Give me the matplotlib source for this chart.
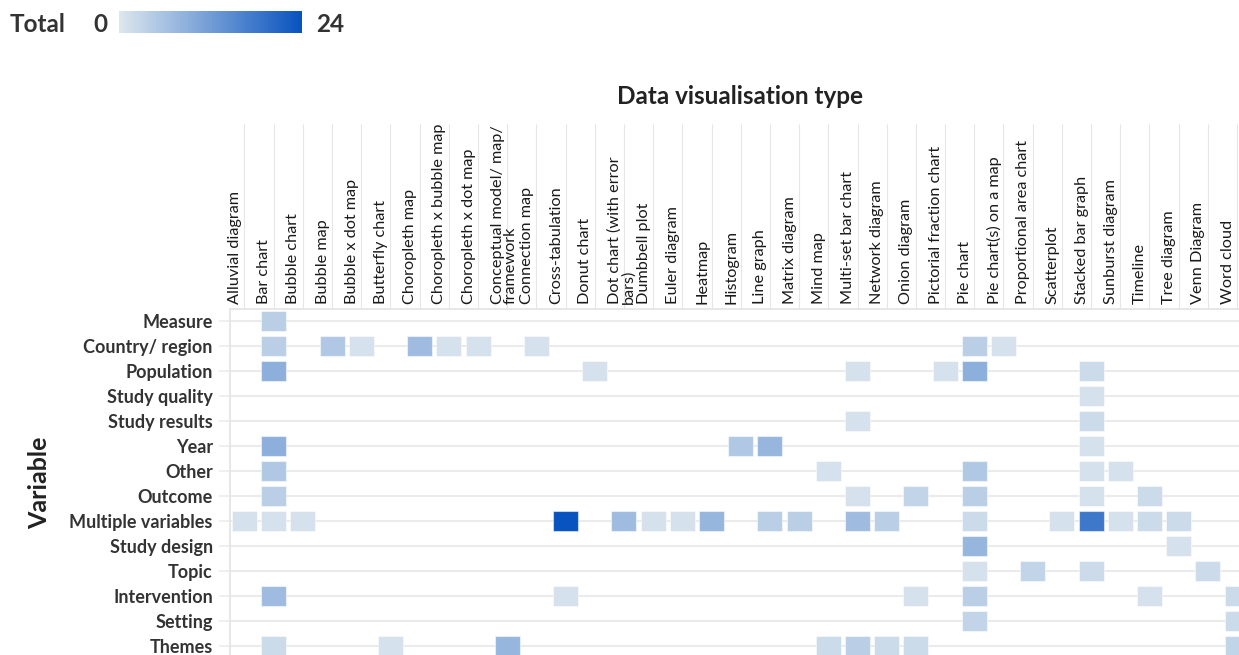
import matplotlib
matplotlib.use('Agg')
import matplotlib.pyplot as plt
import matplotlib.colors as mcolors
import matplotlib.transforms as mtransforms
from matplotlib.patches import Rectangle
import numpy as np

plt.rcParams['font.family'] = ['Lato', 'DejaVu Sans']

# column categories (display labels, line breaks as in the source)
vis_types = ['Alluvial diagram', 'Bar chart', 'Bubble chart', 'Bubble map', 'Bubble x dot map',
             'Butterfly chart', 'Choropleth map', 'Choropleth x bubble map', 'Choropleth x dot map',
             'Conceptual model/ map/\nframework', 'Connection map', 'Cross-tabulation', 'Donut chart',
             'Dot chart (with error\nbars)', 'Dumbbell plot', 'Euler diagram', 'Heatmap', 'Histogram',
             'Line graph', 'Matrix diagram', 'Mind map', 'Multi-set bar chart', 'Network diagram',
             'Onion diagram', 'Pictorial fraction chart', 'Pie chart', 'Pie chart(s) on a map',
             'Proportional area chart', 'Scatterplot', 'Stacked bar graph', 'Sunburst diagram',
             'Timeline', 'Tree diagram', 'Venn Diagram', 'Word cloud']

variables = ['Measure', 'Country/ region', 'Population', 'Study quality', 'Study results', 'Year',
             'Other', 'Outcome', 'Multiple variables', 'Study design', 'Topic', 'Intervention',
             'Setting', 'Themes']

# counts per variable (only non-empty cells)
measure = {'Bar chart': 4}
country_region = {'Bar chart': 4, 'Bubble map': 5, 'Bubble x dot map': 1, 'Choropleth map': 7,
                  'Choropleth x bubble map': 1, 'Choropleth x dot map': 1, 'Connection map': 1,
                  'Pie chart': 4, 'Pie chart(s) on a map': 1}
population = {'Bar chart': 9, 'Donut chart': 1, 'Multi-set bar chart': 1,
              'Pictorial fraction chart': 1, 'Pie chart': 9, 'Stacked bar graph': 2}
study_quality = {'Stacked bar graph': 1}
study_results = {'Multi-set bar chart': 1, 'Stacked bar graph': 2}
year = {'Bar chart': 9, 'Histogram': 5, 'Line graph': 8, 'Stacked bar graph': 1}
other = {'Bar chart': 5, 'Mind map': 1, 'Pie chart': 5, 'Stacked bar graph': 1, 'Sunburst diagram': 1}
outcome = {'Bar chart': 4, 'Multi-set bar chart': 1, 'Onion diagram': 3, 'Pie chart': 4,
           'Stacked bar graph': 1, 'Timeline': 2}
multiple_variables = {'Alluvial diagram': 1, 'Bar chart': 1, 'Bubble chart': 1, 'Cross-tabulation': 24,
                      'Dot chart (with error\nbars)': 7, 'Dumbbell plot': 1, 'Euler diagram': 1,
                      'Heatmap': 8, 'Line graph': 4, 'Matrix diagram': 4, 'Multi-set bar chart': 7,
                      'Network diagram': 4, 'Pie chart': 2, 'Scatterplot': 1, 'Stacked bar graph': 18,
                      'Sunburst diagram': 1, 'Timeline': 2, 'Tree diagram': 2}
study_design = {'Pie chart': 8, 'Tree diagram': 1}
topic = {'Pie chart': 1, 'Proportional area chart': 3, 'Stacked bar graph': 2, 'Venn Diagram': 2}
intervention = {'Bar chart': 7, 'Cross-tabulation': 1, 'Onion diagram': 1, 'Pie chart': 4,
                'Timeline': 1, 'Word cloud': 2}
setting = {'Pie chart': 3, 'Word cloud': 2}
themes = {'Bar chart': 2, 'Butterfly chart': 1, 'Conceptual model/ map/\nframework': 8, 'Mind map': 2,
          'Multi-set bar chart': 4, 'Network diagram': 2, 'Onion diagram': 2, 'Word cloud': 3}

rows = [measure, country_region, population, study_quality, study_results, year, other, outcome,
        multiple_variables, study_design, topic, intervention, setting, themes]

vmin, vmax = 0, 24
cmap = mcolors.LinearSegmentedColormap.from_list('total', ['#dde7ee', '#0853bf'])
norm = mcolors.Normalize(vmin=vmin, vmax=vmax)

W, H = 1239, 655
fig = plt.figure(figsize=(W / 100, H / 100), dpi=100)

# main axes (cropped at right and bottom like the source)
ax_l, ax_t, ax_r, ax_b = 229.9, 308.5, 1251.6, 658.5
ax = fig.add_axes([ax_l / W, 1 - ax_b / H, (ax_r - ax_l) / W, (ax_b - ax_t) / H])
ax.set_xlim(-0.5, len(vis_types) - 0.5)
ax.set_ylim(len(variables) - 0.5, -0.5)

grid_c = '#ebebeb'
for i, row in enumerate(rows):
    for name, val in row.items():
        k = vis_types.index(name)
        ax.add_patch(Rectangle((k - 0.428, i - 0.41), 0.856, 0.82, facecolor=cmap(norm(val)),
                               edgecolor=(1, 1, 1, 0.5), linewidth=0.8, zorder=3))

ax.set_yticks(range(len(variables)))
ax.set_yticklabels(variables, fontsize=13, fontweight='bold', color='#333333')
ax.grid(axis='y', color=grid_c, linewidth=1.5, zorder=0)
ax.set_axisbelow(True)
ax.tick_params(axis='y', length=8, width=1.1, color=grid_c, pad=4.3)

ax.xaxis.tick_top()
ax.set_xticks(range(len(vis_types)))
ax.tick_params(axis='x', length=133, width=0.8, color='#e6e6e6', labeltop=False, labelbottom=False)

for s in ['right', 'bottom']:
    ax.spines[s].set_visible(False)
for s in ['left', 'top']:
    ax.spines[s].set_color('#e3e3e3')
    ax.spines[s].set_linewidth(1.2)

trans = mtransforms.blended_transform_factory(ax.transData, ax.transAxes)
off = mtransforms.ScaledTranslation(-16.5 / 100, 5 / 100, fig.dpi_scale_trans)
for k, lab in enumerate(vis_types):
    ax.text(k, 1.0, lab, transform=trans + off, rotation=90, ha='left', va='bottom',
            fontsize=11.7, color='#1a1a1a', linespacing=0.92)

fig.text(740 / W, 1 - 96 / H, 'Data visualisation type', ha='center', va='center',
         fontsize=17.5, fontweight='bold', color='#222222')
fig.text(40 / W, 1 - 483 / H, 'Variable', ha='center', va='center', rotation=90,
         fontsize=18, fontweight='bold', color='#222222')

# legend
fig.text(10 / W, 1 - 25 / H, 'Total', ha='left', va='center', fontsize=17.5, fontweight='bold', color='#333333')
fig.text(93 / W, 1 - 25 / H, '0', ha='left', va='center', fontsize=17.5, fontweight='bold', color='#333333')
fig.text(316 / W, 1 - 25 / H, '24', ha='left', va='center', fontsize=17.5, fontweight='bold', color='#333333')
cax = fig.add_axes([119 / W, 1 - 33 / H, 183 / W, 22 / H])
cax.imshow(np.linspace(vmin, vmax, 256)[None, :], aspect='auto', cmap=cmap, norm=norm)
cax.set_axis_off()

fig.savefig('out.png', dpi=100)
